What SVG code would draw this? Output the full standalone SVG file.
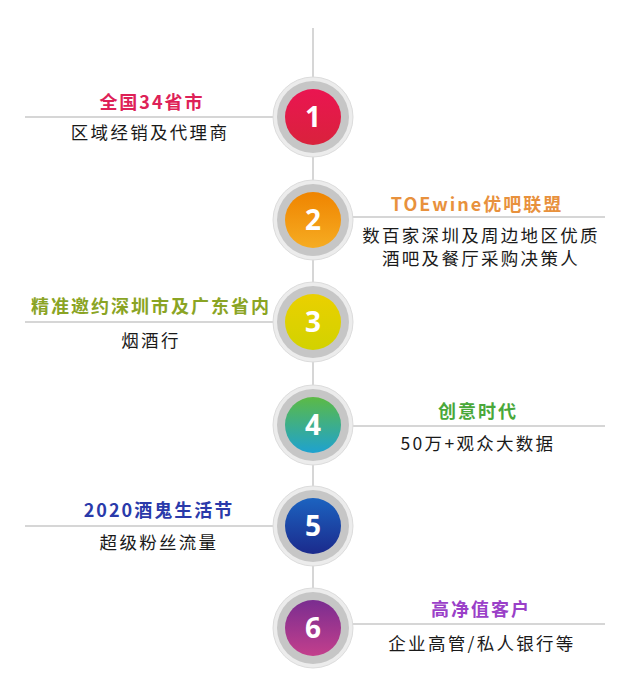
<svg xmlns="http://www.w3.org/2000/svg" width="622" height="700" viewBox="0 0 622 700">
<style>
.t{font-family:"Noto Sans CJK SC","Noto Sans",sans-serif;font-weight:bold;font-size:18px;letter-spacing:2px;text-anchor:middle}
.s{font-family:"Noto Sans CJK SC","Noto Sans",sans-serif;font-size:17.5px;letter-spacing:2.3px;fill:#1a1a1a;text-anchor:middle}
.n{font-family:"Noto Sans","Open Sans",sans-serif;font-weight:bold;font-size:28px;fill:#fff;text-anchor:middle}
.ln{stroke:#c8c8c8;stroke-width:1.5;fill:none}
.o{fill:#ececec;stroke:#dcdcdc;stroke-width:1}
.g{fill:#c6c6c6}
</style>
<defs>
<linearGradient id="c1" x1="0" y1="0" x2="0" y2="1"><stop offset="0" stop-color="#ea1551"/><stop offset="1" stop-color="#d9223c"/></linearGradient>
<linearGradient id="c2" x1="0" y1="0" x2="0" y2="1"><stop offset="0" stop-color="#ef8400"/><stop offset="1" stop-color="#f6ac22"/></linearGradient>
<linearGradient id="c3" x1="0" y1="0" x2="0" y2="1"><stop offset="0" stop-color="#ead000"/><stop offset="1" stop-color="#d2d200"/></linearGradient>
<linearGradient id="c4" x1="0" y1="0" x2="0" y2="1"><stop offset="0" stop-color="#5cba45"/><stop offset="1" stop-color="#1ea2d0"/></linearGradient>
<linearGradient id="c5" x1="0" y1="0" x2="0" y2="1"><stop offset="0" stop-color="#1c63c0"/><stop offset="1" stop-color="#1b2a8c"/></linearGradient>
<linearGradient id="c6" x1="0" y1="0" x2="0" y2="1"><stop offset="0" stop-color="#7a2d90"/><stop offset="1" stop-color="#c33f8c"/></linearGradient>
</defs>
<g id="connectors">
<line class="ln" x1="313" y1="28" x2="313" y2="640"/>
<line class="ln" x1="25" y1="117" x2="280" y2="117"/>
<line class="ln" x1="346" y1="217" x2="605" y2="217"/>
<line class="ln" x1="25" y1="322" x2="280" y2="322"/>
<line class="ln" x1="346" y1="426" x2="605" y2="426"/>
<line class="ln" x1="25" y1="526" x2="280" y2="526"/>
<line class="ln" x1="346" y1="624" x2="605" y2="624"/>
</g>
<g id="node1">
<circle class="o" cx="313" cy="117" r="40"/><circle class="g" cx="313" cy="117" r="36"/><circle fill="url(#c1)" cx="313" cy="117" r="28"/>
<text class="n" x="313" y="127">1</text>
<text class="t" x="152" y="109" fill="#de2157">全国34省市</text>
<text class="s" x="150" y="139">区域经销及代理商</text>
</g>
<g id="node2">
<circle class="o" cx="313" cy="220" r="40"/><circle class="g" cx="313" cy="220" r="36"/><circle fill="url(#c2)" cx="313" cy="220" r="28"/>
<text class="n" x="313" y="230">2</text>
<text class="t" x="477" y="211" fill="#e8913d">TOEwine优吧联盟</text>
<text class="s" x="481" y="242">数百家深圳及周边地区优质</text>
<text class="s" x="481" y="265">酒吧及餐厅采购决策人</text>
</g>
<g id="node3">
<circle class="o" cx="313" cy="322" r="40"/><circle class="g" cx="313" cy="322" r="36"/><circle fill="url(#c3)" cx="313" cy="322" r="28"/>
<text class="n" x="313" y="332">3</text>
<text class="t" x="151" y="313" fill="#8aa424">精准邀约深圳市及广东省内</text>
<text class="s" x="151" y="347">烟酒行</text>
</g>
<g id="node4">
<circle class="o" cx="313" cy="425" r="40"/><circle class="g" cx="313" cy="425" r="36"/><circle fill="url(#c4)" cx="313" cy="425" r="28"/>
<text class="n" x="313" y="435">4</text>
<text class="t" x="478" y="418" fill="#4aa83a">创意时代</text>
<text class="s" x="478" y="450">50万+观众大数据</text>
</g>
<g id="node5">
<circle class="o" cx="313" cy="526" r="40"/><circle class="g" cx="313" cy="526" r="36"/><circle fill="url(#c5)" cx="313" cy="526" r="28"/>
<text class="n" x="313" y="536">5</text>
<text class="t" x="159" y="517" fill="#2a3aaa">2020酒鬼生活节</text>
<text class="s" x="159" y="549">超级粉丝流量</text>
</g>
<g id="node6">
<circle class="o" cx="313" cy="628" r="40"/><circle class="g" cx="313" cy="628" r="36"/><circle fill="url(#c6)" cx="313" cy="628" r="28"/>
<text class="n" x="313" y="638">6</text>
<text class="t" x="481" y="616" fill="#9a40c8">高净值客户</text>
<text class="s" x="482" y="650">企业高管/私人银行等</text>
</g>
</svg>
